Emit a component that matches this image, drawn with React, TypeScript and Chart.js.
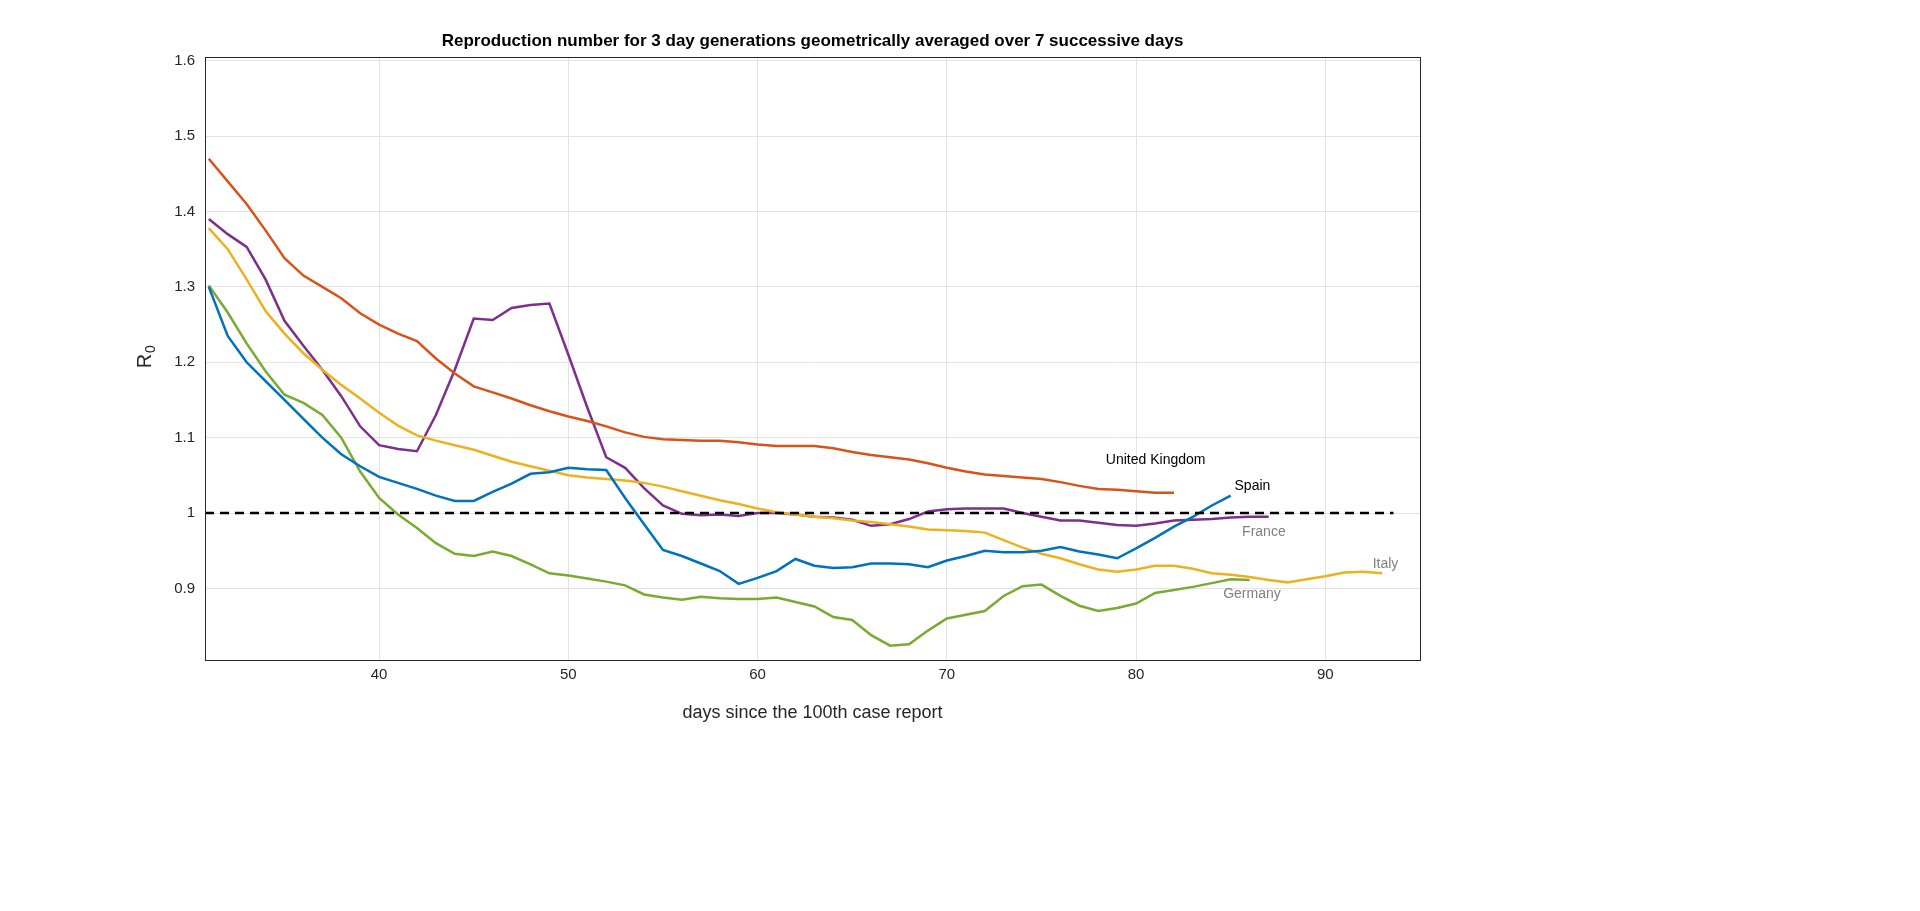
import { useEffect, useRef } from "react";
import { Chart, registerables } from "chart.js";

Chart.register(...registerables);

const days = Array.from({ length: 63 }, (_, i) => 31 + i);

const unitedKingdom = [1.47, 1.44, 1.41, 1.375, 1.338, 1.315, 1.3, 1.285, 1.265, 1.25, 1.238, 1.228, 1.205, 1.185, 1.168, 1.16, 1.152, 1.143, 1.135, 1.128, 1.122, 1.115, 1.107, 1.101, 1.098, 1.097, 1.096, 1.096, 1.094, 1.091, 1.089, 1.089, 1.089, 1.086, 1.081, 1.077, 1.074, 1.071, 1.066, 1.06, 1.055, 1.051, 1.049, 1.047, 1.045, 1.041, 1.036, 1.032, 1.031, 1.029, 1.027, 1.027];
const spain = [1.3, 1.235, 1.2, 1.175, 1.15, 1.125, 1.1, 1.078, 1.062, 1.048, 1.04, 1.032, 1.023, 1.016, 1.016, 1.028, 1.039, 1.052, 1.054, 1.06, 1.058, 1.057, 1.02, 0.985, 0.951, 0.943, 0.933, 0.923, 0.906, 0.914, 0.923, 0.939, 0.93, 0.927, 0.928, 0.933, 0.933, 0.932, 0.928, 0.937, 0.943, 0.95, 0.948, 0.948, 0.95, 0.955, 0.949, 0.945, 0.94, 0.953, 0.967, 0.982, 0.995, 1.01, 1.023];
const italy = [1.378, 1.35, 1.31, 1.268, 1.238, 1.212, 1.19, 1.17, 1.152, 1.133, 1.116, 1.103, 1.096, 1.09, 1.084, 1.076, 1.068, 1.062, 1.056, 1.05, 1.047, 1.045, 1.043, 1.04, 1.035, 1.029, 1.023, 1.017, 1.012, 1.006, 1.001, 0.998, 0.995, 0.993, 0.99, 0.988, 0.985, 0.982, 0.978, 0.977, 0.976, 0.974, 0.964, 0.954, 0.946, 0.94, 0.932, 0.925, 0.922, 0.925, 0.93, 0.93, 0.926, 0.92, 0.918, 0.915, 0.911, 0.908, 0.912, 0.916, 0.921, 0.922, 0.92];
const germany = [1.302, 1.266, 1.225, 1.188, 1.157, 1.146, 1.13, 1.1, 1.055, 1.02, 0.998, 0.98, 0.96, 0.946, 0.943, 0.949, 0.943, 0.932, 0.92, 0.917, 0.913, 0.909, 0.904, 0.892, 0.888, 0.885, 0.889, 0.887, 0.886, 0.886, 0.888, 0.882, 0.876, 0.862, 0.858, 0.838, 0.824, 0.826, 0.844, 0.86, 0.865, 0.87, 0.89, 0.903, 0.905, 0.89, 0.877, 0.87, 0.874, 0.88, 0.894, 0.898, 0.902, 0.907, 0.912, 0.911];
const france = [1.39, 1.37, 1.353, 1.31, 1.255, 1.222, 1.19, 1.155, 1.115, 1.09, 1.085, 1.082, 1.13, 1.19, 1.258, 1.256, 1.272, 1.276, 1.278, 1.21, 1.14, 1.074, 1.06, 1.033, 1.01, 0.999, 0.997, 0.998, 0.996, 1.0, 1.0, 0.998, 0.995, 0.994, 0.991, 0.983, 0.985, 0.992, 1.002, 1.005, 1.006, 1.006, 1.006, 1.0, 0.995, 0.99, 0.99, 0.987, 0.984, 0.983, 0.986, 0.99, 0.991, 0.992, 0.994, 0.995, 0.995];

const xTicks = [40, 50, 60, 70, 80, 90];
const yTicks = [0.9, 1, 1.1, 1.2, 1.3, 1.4, 1.5, 1.6];

const labels = [
  { text: "United Kingdom", x: 78.4, y: 1.07, color: "#000000" },
  { text: "Spain", x: 85.2, y: 1.035, color: "#000000" },
  { text: "France", x: 85.6, y: 0.975, color: "#808080" },
  { text: "Italy", x: 92.5, y: 0.932, color: "#808080" },
  { text: "Germany", x: 84.6, y: 0.892, color: "#808080" },
];

const toPoints = (vals: number[]) => vals.map((v, i) => ({ x: days[i], y: v }));

const FONT = "Arial, 'Liberation Sans', sans-serif";

const overlay = {
  id: "overlay",
  afterDatasetsDraw(chart: any) {
    const { ctx, chartArea: a, scales } = chart;
    ctx.save();
    ctx.strokeStyle = "#262626";
    ctx.lineWidth = 1;
    ctx.strokeRect(a.left + 0.5, a.top + 0.5, a.right - a.left, a.bottom - a.top);
    ctx.font = `14px ${FONT}`;
    ctx.textBaseline = "middle";
    for (const l of labels) {
      ctx.fillStyle = l.color;
      ctx.fillText(l.text, scales.x.getPixelForValue(l.x), scales.y.getPixelForValue(l.y));
    }
    ctx.fillStyle = "#000";
    ctx.textAlign = "center";
    ctx.font = `bold 17px ${FONT}`;
    ctx.fillText("Reproduction number for 3 day generations geometrically averaged over 7 successive days", (a.left + a.right) / 2, 41);
    ctx.fillStyle = "#262626";
    ctx.font = `18px ${FONT}`;
    ctx.fillText("days since the 100th case report", (a.left + a.right) / 2, 713);
    ctx.translate(145, 357);
    ctx.rotate(-Math.PI / 2);
    ctx.font = `20px ${FONT}`;
    ctx.fillText("R", -4, 0);
    ctx.font = `14px ${FONT}`;
    ctx.fillText("0", 8, 6);
    ctx.restore();
  },
};

export default function App() {
  const canvasRef = useRef<HTMLCanvasElement>(null);

  useEffect(() => {
    document.body.style.margin = "0";
    if (!canvasRef.current) return;
    const line = (data: number[], color: string) => ({
      data: toPoints(data),
      borderColor: color,
      borderWidth: 2.5,
      pointRadius: 0,
      tension: 0,
    });
    const chart = new Chart(canvasRef.current, {
      type: "line",
      data: {
        datasets: [
          { data: [{ x: 30.8, y: 1 }, { x: 93.6, y: 1 }], borderColor: "#000", borderWidth: 2.5, borderDash: [9, 6], pointRadius: 0 },
          line(spain, "#0072BD"),
          line(unitedKingdom, "#D95319"),
          line(italy, "#EDB120"),
          line(france, "#7E2F8E"),
          line(germany, "#77AC30"),
        ],
      } as any,
      options: {
        animation: false,
        responsive: false,
        layout: { padding: { top: 57, right: 500, bottom: 0, left: 0 } },
        plugins: { legend: { display: false }, tooltip: { enabled: false } },
        scales: {
          x: {
            type: "linear",
            min: 30.8,
            max: 95,
            afterBuildTicks: (s: any) => { s.ticks = xTicks.map((v) => ({ value: v })); },
            afterFit: (s: any) => { s.height = 251; },
            ticks: { color: "#262626", font: { size: 15, family: FONT }, padding: 6 },
            grid: { color: "#e3e3e3", drawTicks: false },
            border: { display: false },
          },
          y: {
            min: 0.805,
            max: 1.605,
            afterBuildTicks: (s: any) => { s.ticks = yTicks.map((v) => ({ value: v })); },
            afterFit: (s: any) => { s.width = 205; },
            ticks: {
              color: "#262626",
              font: { size: 15, family: FONT },
              padding: 10,
              callback: (v: any) => (Math.abs(v - 1) < 1e-9 ? "1" : Number(v).toFixed(1)),
            },
            grid: { color: "#e3e3e3", drawTicks: false },
            border: { display: false },
          },
        },
      },
      plugins: [overlay],
    });
    return () => chart.destroy();
  }, []);

  return <canvas ref={canvasRef} width={1920} height={911} style={{ display: "block", background: "#fff" }} />;
}
